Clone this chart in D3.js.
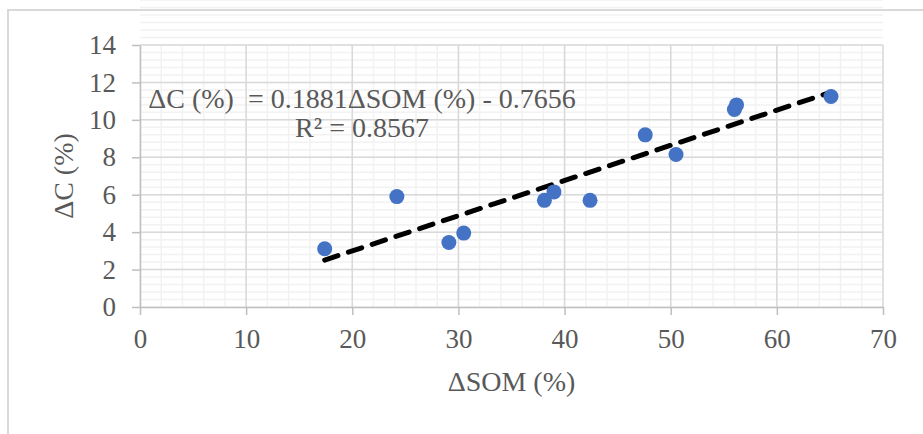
<!DOCTYPE html>
<html>
<head>
<meta charset="utf-8">
<script src="https://cdn.jsdelivr.net/npm/d3@7"></script>
<style>
  body { margin: 0; background: #fff; }
  svg text { font-family: "Times New Roman", "Liberation Serif", serif; fill: #595959; white-space: pre; }
  .grid-minor { stroke: #f2f2f2; stroke-width: 1.5; }
  .grid-major { stroke: #d9d9d9; stroke-width: 1.5; }
  .axis path, .axis line { stroke: #bfbfbf; stroke-width: 1.5; }
</style>
</head>
<body>
<svg id="plotarea"></svg>
<script>
// ΔSOM (%) and ΔC (%)
const som = [17.4, 24.2, 29.1, 30.5, 38.1, 39.0, 42.4, 47.6, 50.5, 56.0, 56.2, 65.1];
const dc  = [3.11, 5.90, 3.45, 3.95, 5.70, 6.15, 5.70, 9.20, 8.15, 10.55, 10.80, 11.25];

const xTicks = [0, 10, 20, 30, 40, 50, 60, 70];
const yTicks = [0, 2, 4, 6, 8, 10, 12, 14];

// trendline as printed on the chart
const slope = 0.1881;
const intercept = -0.7656;
const eqLines = ['\u0394C (%)  = 0.1881\u0394SOM (%) - 0.7656', 'R\u00b2 = 0.8567'];

const W = 923, H = 434;
const margin = { top: 45, bottom: 127, left: 140, right: 40 };
const dims = {
    width: W - margin.left - margin.right,
    height: H - margin.top - margin.bottom,
};
const font = '"Times New Roman", "Liberation Serif", serif';

const root = d3.select('#plotarea').attr('width', W).attr('height', H);

// outer chart border (only top and left edges fall inside the window)
root.append('path')
    .attr('d', `M8,${H} V10 H${W}`)
    .attr('fill', 'none')
    .attr('stroke', '#d9d9d9')
    .attr('stroke-width', 2);

const svg = root.append('g')
    .attr('transform', `translate(${margin.left}, ${margin.top})`);

const x = d3.scaleLinear().domain([0, 70]).range([0, dims.width]);
const y = d3.scaleLinear().domain([0, 14]).range([dims.height, 0]);

// minor grid
svg.selectAll('line.vminor')
   .data(d3.range(0, 70.01, 2))
   .enter().append('line')
   .attr('class', 'grid-minor')
   .attr('x1', d => x(d)).attr('x2', d => x(d))
   .attr('y1', 0).attr('y2', dims.height);
svg.selectAll('line.hminor')
   .data(d3.range(0, 70).map(i => i * 0.4))
   .enter().append('line')
   .attr('class', 'grid-minor')
   .attr('y1', d => y(d)).attr('y2', d => y(d))
   .attr('x1', 0).attr('x2', dims.width);

// major grid
svg.selectAll('line.vmajor')
   .data(xTicks.slice(1))
   .enter().append('line')
   .attr('class', 'grid-major')
   .attr('x1', d => x(d)).attr('x2', d => x(d))
   .attr('y1', 0).attr('y2', dims.height);
svg.selectAll('line.hmajor')
   .data(yTicks.slice(1))
   .enter().append('line')
   .attr('class', 'grid-major')
   .attr('y1', d => y(d)).attr('y2', d => y(d))
   .attr('x1', 0).attr('x2', dims.width);

// axes
const xAxis = svg.append('g')
   .attr('class', 'axis')
   .attr('transform', `translate(0, ${dims.height})`)
   .call(d3.axisBottom(x).tickValues(xTicks).tickSize(8).tickPadding(14).tickSizeOuter(0));
xAxis.attr('font-family', font);
xAxis.selectAll('text').style('font-size', '27px').style('font-family', font).attr('fill', '#595959');

const yAxis = svg.append('g')
   .attr('class', 'axis')
   .call(d3.axisLeft(y).tickValues(yTicks).tickSize(8).tickPadding(16).tickSizeOuter(0));
yAxis.attr('font-family', font);
yAxis.selectAll('text').style('font-size', '27px').style('font-family', font).attr('fill', '#595959');

// trendline
const xr = d3.extent(som);
const trend = [[xr[0], slope * xr[0] + intercept], [xr[1], slope * xr[1] + intercept]];
svg.append('path')
   .attr('d', d3.line().x(d => x(d[0])).y(d => y(d[1]))(trend))
   .attr('fill', 'none')
   .attr('stroke', '#000')
   .attr('stroke-width', 5)
   .attr('stroke-dasharray', '14 11')
   .attr('stroke-linecap', 'round');

// points
svg.selectAll('circle.pt')
   .data(som.map((s, i) => [s, dc[i]]))
   .enter().append('circle')
   .attr('cx', d => x(d[0]))
   .attr('cy', d => y(d[1]))
   .attr('r', 7.5)
   .attr('fill', '#4472c4');

// equation label
svg.selectAll('text.eq')
   .data(eqLines)
   .enter().append('text')
   .attr('x', 222)
   .attr('y', (d, i) => 63 + i * 28.5)
   .attr('text-anchor', 'middle')
   .style('font-family', font)
   .style('font-size', '28px')
   .text(d => d);

// axis titles
svg.append('text')
   .attr('x', dims.width / 2)
   .attr('y', dims.height + 84)
   .attr('text-anchor', 'middle')
   .style('font-family', font)
   .style('font-size', '28px')
   .text('\u0394SOM (%)');

svg.append('text')
   .attr('transform', 'rotate(-90)')
   .attr('x', -dims.height / 2)
   .attr('y', -67)
   .attr('text-anchor', 'middle')
   .style('font-family', font)
   .style('font-size', '28px')
   .text('\u0394C (%)');
</script>
</body>
</html>
